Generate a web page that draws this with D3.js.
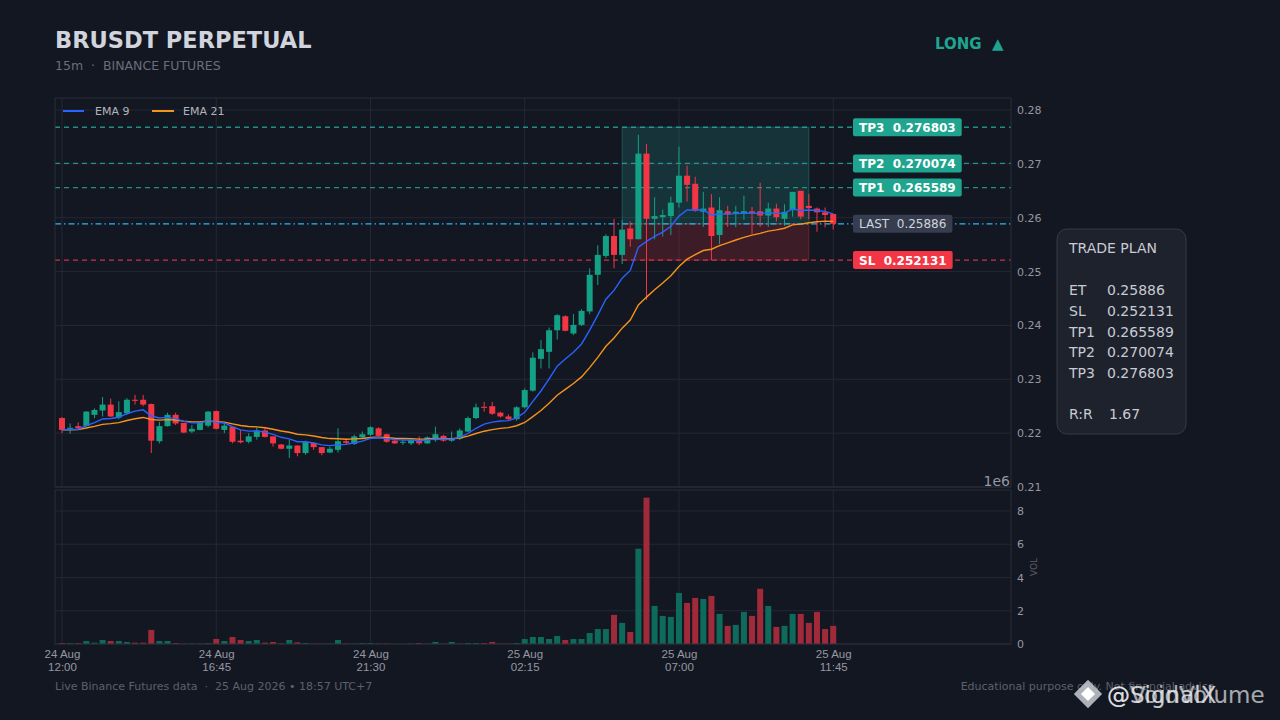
<!DOCTYPE html>
<html><head><meta charset="utf-8">
<script src="https://cdn.jsdelivr.net/npm/d3@7/dist/d3.min.js"></script>
<style>
html,body{margin:0;padding:0;background:#131722;}
svg{display:block;font-family:"DejaVu Sans",sans-serif;}
</style></head>
<body>
<svg id="c" width="1280" height="720"></svg>
<script>
// ---- data ----
const timeTickIdx = [0, 19, 38, 57, 76, 95];
const timeTickDay = ["24 Aug", "24 Aug", "24 Aug", "25 Aug", "25 Aug", "25 Aug"];
const timeTickTime = ["12:00", "16:45", "21:30", "02:15", "07:00", "11:45"];
const priceTicks = [0.21, 0.22, 0.23, 0.24, 0.25, 0.26, 0.27, 0.28];
const volTicks = [0, 2, 4, 6, 8];

const opens = [0.2228,0.2208,0.2213,0.2213,0.2234,0.2242,0.2253,0.2229,0.2237,0.2262,
0.2262,0.2254,0.2185,0.2213,0.2234,0.2219,0.2203,0.2206,0.2214,0.2241,
0.2206,0.2212,0.2186,0.2184,0.2193,0.2205,0.2194,0.2179,0.2171,0.2177,
0.2163,0.2182,0.2174,0.2164,0.2169,0.2185,0.2180,0.2192,0.2197,0.2209,
0.2198,0.2186,0.2183,0.2181,0.2187,0.2181,0.2187,0.2195,0.2186,0.2190,
0.2203,0.2228,0.2249,0.2250,0.2238,0.2231,0.2226,0.2248,0.2279,0.2338,
0.2351,0.2391,0.2417,0.2385,0.2401,0.2426,0.2494,0.2529,0.2566,0.2531,
0.2580,0.2560,0.2719,0.2598,0.2601,0.2603,0.2628,0.2678,0.2663,0.2611,
0.2619,0.2568,0.2612,0.2608,0.2608,0.2612,0.2612,0.2604,0.2617,0.2598,
0.2614,0.2650,0.2622,0.2617,0.2610,0.2607];
const highs = [0.2230,0.2218,0.2220,0.2241,0.2246,0.2267,0.2264,0.2259,0.2265,0.2271,
0.2271,0.2255,0.2221,0.2238,0.2238,0.2219,0.2215,0.2221,0.2241,0.2242,
0.2221,0.2213,0.2206,0.2200,0.2211,0.2209,0.2194,0.2180,0.2188,0.2177,
0.2186,0.2182,0.2174,0.2175,0.2209,0.2190,0.2197,0.2203,0.2213,0.2211,
0.2199,0.2189,0.2190,0.2190,0.2194,0.2194,0.2212,0.2197,0.2203,0.2209,
0.2231,0.2255,0.2258,0.2258,0.2240,0.2235,0.2250,0.2283,0.2350,0.2373,
0.2396,0.2421,0.2419,0.2421,0.2430,0.2506,0.2549,0.2569,0.2598,0.2596,
0.2593,0.2754,0.2737,0.2638,0.2615,0.2639,0.2732,0.2697,0.2676,0.2648,
0.2644,0.2638,0.2622,0.2622,0.2641,0.2620,0.2665,0.2628,0.2626,0.2625,
0.2648,0.2650,0.2644,0.2619,0.2619,0.2607];
const lows = [0.2200,0.2199,0.2206,0.2212,0.2228,0.2231,0.2230,0.2226,0.2234,0.2253,
0.2250,0.2163,0.2181,0.2212,0.2215,0.2200,0.2200,0.2205,0.2211,0.2207,
0.2200,0.2181,0.2181,0.2181,0.2188,0.2192,0.2175,0.2170,0.2154,0.2157,
0.2160,0.2169,0.2159,0.2163,0.2164,0.2178,0.2178,0.2190,0.2195,0.2194,
0.2182,0.2180,0.2178,0.2178,0.2178,0.2180,0.2184,0.2184,0.2184,0.2187,
0.2202,0.2226,0.2240,0.2234,0.2229,0.2224,0.2223,0.2246,0.2277,0.2320,
0.2320,0.2374,0.2389,0.2382,0.2399,0.2421,0.2475,0.2525,0.2506,0.2514,
0.2546,0.2560,0.2447,0.2560,0.2565,0.2568,0.2619,0.2630,0.2611,0.2583,
0.2521,0.2551,0.2583,0.2582,0.2596,0.2570,0.2583,0.2583,0.2593,0.2585,
0.2602,0.2597,0.2597,0.2574,0.2582,0.2578];
const closes = [0.2206,0.2210,0.2209,0.2240,0.2243,0.2253,0.2231,0.2239,0.2262,0.2260,
0.2253,0.2186,0.2213,0.2234,0.2218,0.2201,0.2208,0.2219,0.2240,0.2208,
0.2214,0.2184,0.2183,0.2194,0.2205,0.2193,0.2181,0.2171,0.2177,0.2163,
0.2184,0.2174,0.2163,0.2171,0.2185,0.2182,0.2194,0.2198,0.2211,0.2195,
0.2184,0.2181,0.2184,0.2187,0.2181,0.2192,0.2198,0.2186,0.2190,0.2205,
0.2228,0.2248,0.2247,0.2236,0.2231,0.2226,0.2248,0.2280,0.2340,0.2356,
0.2391,0.2419,0.2390,0.2401,0.2427,0.2494,0.2531,0.2566,0.2531,0.2578,
0.2560,0.2719,0.2598,0.2603,0.2605,0.2628,0.2678,0.2661,0.2613,0.2617,
0.2566,0.2614,0.2606,0.2611,0.2612,0.2609,0.2604,0.2617,0.2601,0.2611,
0.2648,0.2602,0.2618,0.2610,0.2605,0.25886];
const volumes = [0.06,0.05,0.05,0.18,0.08,0.24,0.18,0.18,0.12,0.08,
0.08,0.85,0.18,0.18,0.06,0.02,0.02,0.02,0.05,0.30,
0.18,0.42,0.24,0.18,0.24,0.08,0.12,0.03,0.24,0.10,
0.06,0.02,0.02,0.02,0.24,0.02,0.02,0.05,0.05,0.02,
0.02,0.01,0.01,0.02,0.06,0.02,0.12,0.02,0.12,0.02,
0.06,0.06,0.06,0.12,0.02,0.02,0.06,0.30,0.42,0.42,
0.30,0.48,0.24,0.30,0.30,0.66,0.90,0.90,1.75,1.27,
0.72,5.73,8.80,2.29,1.69,1.63,3.07,2.47,2.77,2.71,
2.89,1.81,1.09,1.15,1.93,1.69,3.32,2.29,1.03,1.09,
1.81,1.81,1.27,1.93,0.90,1.09];

const levelNames = ["TP3", "TP2", "TP1", "LAST", "SL"];
const levelValues = [0.276803, 0.270074, 0.265589, 0.25886, 0.252131];
const entry = 0.25886, stopLoss = 0.252131, tp3 = 0.276803;
const zoneStartIdx = 69, zoneEndIdx = 92;
const planLabels = ["ET", "SL", "TP1", "TP2", "TP3"];
const planValues = ["0.25886", "0.252131", "0.265589", "0.270074", "0.276803"];
const riskReward = "1.67";

// ---- setup ----
const svg = d3.select("#c");
const W = 1280, H = 720;
const L = 55, R = 1011, T = 98, B = 487, VT = 490, VB = 644;
const GREEN = "#14a085", RED = "#f23645", VGREEN = "#0e6b5c", VRED = "#a12a3a";
const GRID = "#242835", BORDER = "#2a2e39", TXT = "#9598a1";

svg.append("rect").attr("width", W).attr("height", H).attr("fill", "#131722");

const x = d3.scaleLinear().domain([-0.86, 116.9]).range([L, R]);
const y = d3.scaleLinear().domain([0.21, 0.28223]).range([B, T]);
const yv = d3.scaleLinear().domain([0, 9.26]).range([VB, VT]);
const idx = d3.range(closes.length);

// EMA
function ema(arr, n) {
  const a = 2 / (n + 1); const out = [];
  arr.forEach((v, i) => out.push(i === 0 ? v : a * v + (1 - a) * out[i - 1]));
  return out;
}
const ema9 = ema(closes, 9), ema21 = ema(closes, 21);

// ---- grids ----
const g = svg.append("g");
g.selectAll(".hg").data(priceTicks).join("line")
  .attr("x1", L).attr("x2", R).attr("y1", d => y(d)).attr("y2", d => y(d))
  .attr("stroke", GRID).attr("stroke-width", 1);
g.selectAll(".vg").data(timeTickIdx).join("line")
  .attr("x1", d => x(d)).attr("x2", d => x(d)).attr("y1", T).attr("y2", B)
  .attr("stroke", GRID);
g.selectAll(".hvg").data(volTicks).join("line")
  .attr("x1", L).attr("x2", R).attr("y1", d => yv(d)).attr("y2", d => yv(d))
  .attr("stroke", GRID);
g.selectAll(".vvg").data(timeTickIdx).join("line")
  .attr("x1", d => x(d)).attr("x2", d => x(d)).attr("y1", VT).attr("y2", VB)
  .attr("stroke", GRID);

// zones
const zx0 = x(zoneStartIdx), zx1 = x(zoneEndIdx);
svg.append("rect").attr("x", zx0).attr("width", zx1 - zx0)
  .attr("y", y(tp3)).attr("height", y(entry) - y(tp3))
  .attr("fill", "rgba(38,166,154,0.2)").attr("stroke", "rgba(38,166,154,0.35)").attr("stroke-width", 1);
svg.append("rect").attr("x", zx0).attr("width", zx1 - zx0)
  .attr("y", y(entry)).attr("height", y(stopLoss) - y(entry))
  .attr("fill", "rgba(242,54,69,0.18)").attr("stroke", "rgba(242,54,69,0.3)").attr("stroke-width", 1);

// level lines
const levelColor = ["#26a69a", "#26a69a", "#26a69a", "#29b6f6", "#f23645"];
const levelDash = ["5,4", "5,4", "5,4", "6,3,1.5,3", "5,4"];
levelValues.forEach((v, k) => {
  svg.append("line").attr("x1", L).attr("x2", R).attr("y1", y(v)).attr("y2", y(v))
    .attr("stroke", levelColor[k]).attr("stroke-width", 1.3)
    .attr("stroke-dasharray", levelDash[k]).attr("opacity", k === 3 ? 1 : 0.85);
});

// candles
const cw = 6;
const cg = svg.append("g");
cg.selectAll(".wick").data(idx).join("line")
  .attr("x1", i => x(i)).attr("x2", i => x(i))
  .attr("y1", i => y(highs[i])).attr("y2", i => y(lows[i]))
  .attr("stroke", i => closes[i] >= opens[i] ? GREEN : RED).attr("stroke-width", 1);
cg.selectAll(".body").data(idx).join("rect")
  .attr("x", i => x(i) - cw / 2).attr("width", cw)
  .attr("y", i => y(Math.max(opens[i], closes[i])))
  .attr("height", i => Math.max(1, Math.abs(y(opens[i]) - y(closes[i]))))
  .attr("fill", i => closes[i] >= opens[i] ? GREEN : RED);

// EMA lines
const line = arr => d3.line().x(i => x(i)).y(i => y(arr[i]))(idx);
svg.append("path").attr("d", line(ema21)).attr("fill", "none").attr("stroke", "#f7931a").attr("stroke-width", 1.4);
svg.append("path").attr("d", line(ema9)).attr("fill", "none").attr("stroke", "#2962ff").attr("stroke-width", 1.4);

// volume bars
svg.append("g").selectAll("rect").data(idx).join("rect")
  .attr("x", i => x(i) - 3).attr("width", 6)
  .attr("y", i => yv(volumes[i])).attr("height", i => yv(0) - yv(volumes[i]))
  .attr("fill", i => closes[i] >= opens[i] ? VGREEN : VRED);

// borders
svg.append("rect").attr("x", L).attr("y", T).attr("width", R - L).attr("height", B - T)
  .attr("fill", "none").attr("stroke", BORDER);
svg.append("rect").attr("x", L).attr("y", VT).attr("width", R - L).attr("height", VB - VT)
  .attr("fill", "none").attr("stroke", BORDER);

// axes
const pa = svg.append("g").attr("transform", `translate(${R},0)`)
  .call(d3.axisRight(y).tickValues(priceTicks).tickFormat(d3.format(".2f")).tickSize(0).tickPadding(6));
pa.select(".domain").remove();
pa.selectAll("text").attr("fill", TXT).attr("font-size", 11).attr("font-family", "DejaVu Sans");
const va = svg.append("g").attr("transform", `translate(${R},0)`)
  .call(d3.axisRight(yv).tickValues(volTicks).tickFormat(d3.format("d")).tickSize(0).tickPadding(6));
va.select(".domain").remove();
va.selectAll("text").attr("fill", TXT).attr("font-size", 11).attr("font-family", "DejaVu Sans");

const xa = svg.append("g").attr("transform", `translate(0,${VB})`)
  .call(d3.axisBottom(x).tickValues(timeTickIdx).tickFormat("").tickSize(0));
xa.select(".domain").remove();
xa.selectAll(".tick").each(function (d, k) {
  const t = d3.select(this);
  t.append("text").attr("y", 14).attr("text-anchor", "middle").attr("fill", TXT)
    .attr("font-size", 11.5).text(timeTickDay[k]);
  t.append("text").attr("y", 27).attr("text-anchor", "middle").attr("fill", TXT)
    .attr("font-size", 11.5).text(timeTickTime[k]);
});

svg.append("text").attr("x", R - 1).attr("y", 486).attr("text-anchor", "end")
  .attr("fill", TXT).attr("font-size", 14).text("1e6");
svg.append("text").attr("transform", `translate(1037,567) rotate(-90)`).attr("text-anchor", "middle")
  .attr("fill", "#5d606b").attr("font-size", 9).text("VOL");

// level labels
const boxFill = ["#1fa58f", "#1fa58f", "#1fa58f", "#363d4e", "#f23645"];
levelValues.forEach((v, k) => {
  const isLast = k === 3;
  const lbl = svg.append("g");
  const t = lbl.append("text").attr("x", 859).attr("y", y(v) + 4.5)
    .attr("fill", isLast ? "#d1d4dc" : "#ffffff").attr("font-size", 12)
    .attr("font-weight", isLast ? "normal" : "bold").attr("xml:space", "preserve")
    .text(levelNames[k] + "  " + (isLast ? "0.25886" : d3.format(".6f")(v)));
  const bw = t.node().getComputedTextLength();
  lbl.insert("rect", "text").attr("x", 853).attr("y", y(v) - 9).attr("width", bw + 12).attr("height", 18)
    .attr("rx", 2).attr("fill", boxFill[k]);
});

// trade plan box
svg.append("rect").attr("x", 1057).attr("y", 229).attr("width", 129).attr("height", 205)
  .attr("rx", 10).attr("fill", "#1e222d").attr("stroke", "#363a45");
const tp = svg.append("g").attr("font-size", 14).attr("fill", "#c8cbd3");
tp.append("text").attr("x", 1069).attr("y", 253).text("TRADE PLAN");
planLabels.forEach((l, k) => {
  tp.append("text").attr("x", 1069).attr("y", 295 + k * 20.8).text(l);
  tp.append("text").attr("x", 1107).attr("y", 295 + k * 20.8).text(planValues[k]);
});
tp.append("text").attr("x", 1069).attr("y", 419).text("R:R");
tp.append("text").attr("x", 1109).attr("y", 419).text(riskReward);

// legend
svg.append("line").attr("x1", 63).attr("x2", 84).attr("y1", 111).attr("y2", 111).attr("stroke", "#2962ff").attr("stroke-width", 2);
svg.append("text").attr("x", 95).attr("y", 115).attr("fill", "#b2b5be").attr("font-size", 11).text("EMA 9");
svg.append("line").attr("x1", 152).attr("x2", 174).attr("y1", 111).attr("y2", 111).attr("stroke", "#f7931a").attr("stroke-width", 2);
svg.append("text").attr("x", 183).attr("y", 115).attr("fill", "#b2b5be").attr("font-size", 11).text("EMA 21");

// header
svg.append("text").attr("x", 55).attr("y", 48).attr("fill", "#d1d4dc").attr("font-size", 22.5)
  .attr("font-weight", "bold").text("BRUSDT PERPETUAL");
svg.append("text").attr("x", 55).attr("y", 70).attr("fill", "#6a6e7a").attr("font-size", 12.5)
  .attr("xml:space", "preserve").text("15m  ·  BINANCE FUTURES");
svg.append("text").attr("x", 935).attr("y", 49).attr("fill", "#1fa58f").attr("font-size", 15)
  .attr("font-weight", "bold").attr("xml:space", "preserve").text("LONG  ▲");

// footer
svg.append("text").attr("x", 55).attr("y", 690).attr("fill", "#5d606b").attr("font-size", 11)
  .attr("xml:space", "preserve").text("Live Binance Futures data  ·  25 Aug 2026 • 18:57 UTC+7");
svg.append("text").attr("x", 1218).attr("y", 690).attr("text-anchor", "end").attr("fill", "#5d606b")
  .attr("font-size", 11).text("Educational purpose only. Not financial advice.");

// watermark (two overlapping handles, as in the reference)
const wm = svg.append("g").attr("transform", "translate(1088,694)");
wm.append("rect").attr("x", -10).attr("y", -10).attr("width", 20).attr("height", 20)
  .attr("transform", "rotate(45)").attr("fill", "#c9ccd3").attr("opacity", 0.85);
wm.append("rect").attr("x", -5).attr("y", -5).attr("width", 10).attr("height", 10)
  .attr("transform", "rotate(45)").attr("fill", "#ffffff");
svg.append("text").attr("x", 1107).attr("y", 703).attr("fill", "#e6e7ea").attr("opacity", 0.85)
  .attr("font-size", 23).text("@SignalX");
svg.append("text").attr("x", 1107).attr("y", 703).attr("fill", "#e6e7ea").attr("opacity", 0.7)
  .attr("font-size", 23).text("@VoidVolume");
</script>
</body></html>
